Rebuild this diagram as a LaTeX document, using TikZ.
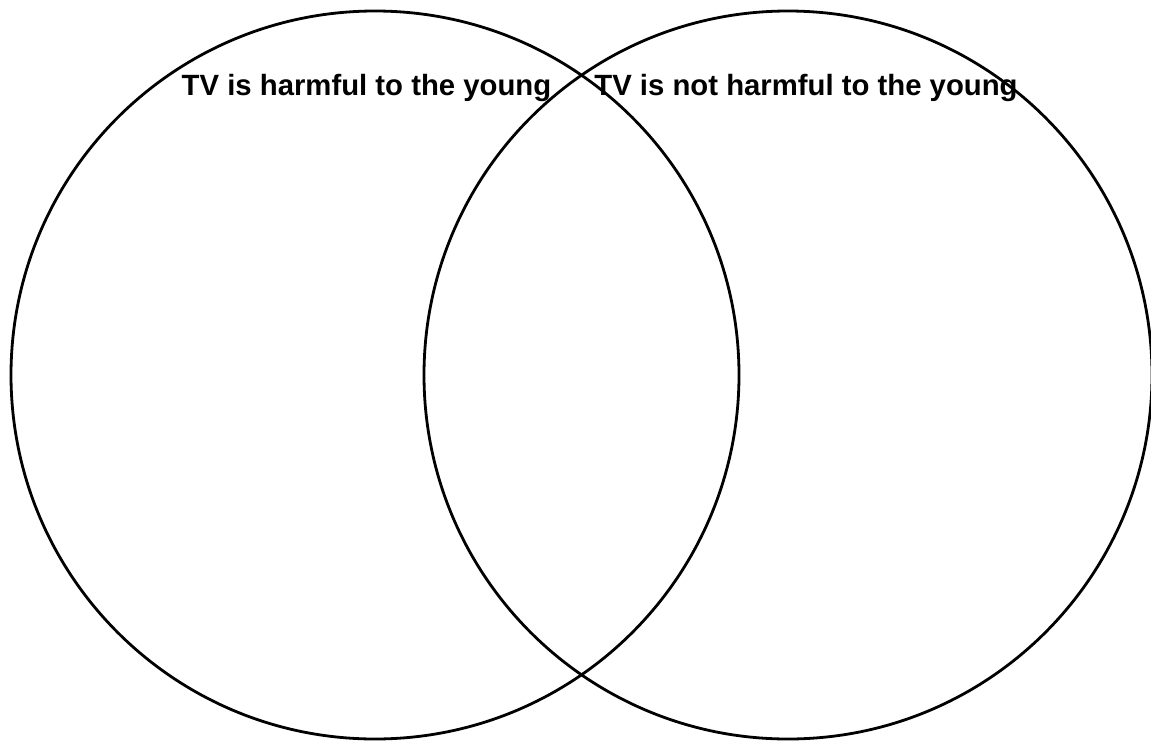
\documentclass[tikz,border=0pt]{standalone}
\usepackage{fontspec}
\setmainfont{Liberation Sans}
\usepackage{tikz}

\tikzset{
  vennset/.style={draw, line width=2.8pt, circle, minimum size=728pt, inner sep=0pt},
  setlabel/.style={font=\fontsize{29.3}{34}\selectfont\bfseries, inner sep=0pt, anchor=base}
}

\begin{document}
\begin{tikzpicture}[x=1pt,y=-1pt]
    \useasboundingbox (0,0) rectangle (1151,742);
    \node[vennset] (harm) at (375,375) {};
    \node[vennset] (noharm) at (788,375) {};
    \node[setlabel] (harmtxt) at (366.5,95) {TV is harmful to the young};
    \node[setlabel] (noharmtxt) at (806,95) {TV is not harmful to the young};
\end{tikzpicture}
\end{document}
